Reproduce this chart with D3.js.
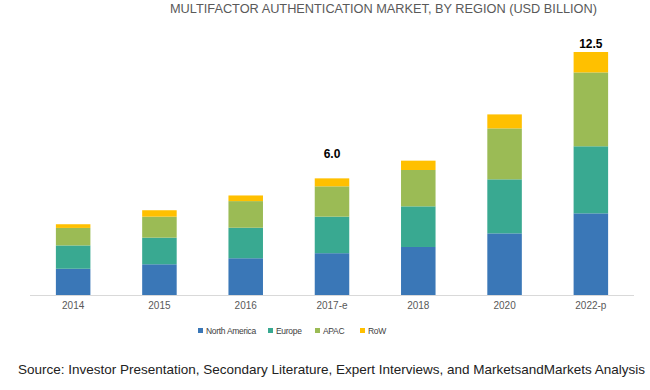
<!DOCTYPE html>
<html>
<head>
<meta charset="utf-8">
<script src="https://cdn.jsdelivr.net/npm/d3@7"></script>
<style>
  body { margin: 0; background: #fff; }
  text { font-family: "Liberation Sans", Arial, sans-serif; }
</style>
</head>
<body>
<div id="chart"></div>
<script>
// data (USD billion)
var years = ["2014", "2015", "2016", "2017-e", "2018", "2020", "2022-p"];
var regions = ["North America", "Europe", "APAC", "RoW"];
var northAmerica = [1.35, 1.58, 1.89, 2.15, 2.47, 3.17, 4.20];
var europe       = [1.20, 1.37, 1.57, 1.88, 2.09, 2.78, 3.45];
var apac         = [0.90, 1.08, 1.37, 1.56, 1.87, 2.62, 3.80];
var row          = [0.19, 0.33, 0.29, 0.41, 0.48, 0.72, 1.05];
var totalLabels  = ["", "", "", "6.0", "", "", "12.5"];

var colors = ["#3a77b7", "#39a991", "#9bbb55", "#ffc000"];

var width = 650, height = 390;

var svg = d3.select("#chart")
  .append("svg")
    .attr("width", width)
    .attr("height", height);

// build rows for the stack
var table = years.map(function(y, i) {
  return {
    year: y,
    "North America": northAmerica[i],
    "Europe": europe[i],
    "APAC": apac[i],
    "RoW": row[i]
  };
});

var series = d3.stack().keys(regions)(table);

var x = d3.scaleBand()
  .domain(years)
  .range([30, 634])
  .paddingInner(0.6)
  .paddingOuter(0.3);

var y = d3.scaleLinear()
  .domain([0, 12.5])
  .range([295, 52]);

// title
svg.append("text")
  .attr("x", 170)
  .attr("y", 13)
  .attr("textLength", 427)
  .attr("lengthAdjust", "spacingAndGlyphs")
  .style("font-size", "12.5px")
  .style("fill", "#595959")
  .text("MULTIFACTOR AUTHENTICATION MARKET, BY REGION (USD BILLION)");

// bars
svg.append("g")
  .selectAll("g")
  .data(series)
  .join("g")
    .attr("fill", function(d, i) { return colors[i]; })
  .selectAll("rect")
  .data(function(d) { return d; })
  .join("rect")
    .attr("x", function(d) { return x(d.data.year); })
    .attr("y", function(d) { return y(d[1]); })
    .attr("width", x.bandwidth())
    .attr("height", function(d) { return y(d[0]) - y(d[1]); });

// x axis
var xAxis = svg.append("g")
  .attr("transform", "translate(0,295)")
  .call(d3.axisBottom(x).tickSize(0).tickPadding(7));
xAxis.select(".domain").attr("stroke", "#d9d9d9").attr("d", "M30,0.5H634");
xAxis.selectAll("text")
  .style("font-size", "10px")
  .style("fill", "#595959");

// total labels
svg.append("g")
  .selectAll("text")
  .data(table)
  .join("text")
    .attr("x", function(d) { return x(d.year) + x.bandwidth() / 2; })
    .attr("y", function(d) {
      var t = d["North America"] + d.Europe + d.APAC + d.RoW;
      return Math.max(y(t) - 20, 48);
    })
    .attr("text-anchor", "middle")
    .style("font-size", "12px")
    .style("font-weight", "bold")
    .style("fill", "#000")
    .text(function(d, i) { return totalLabels[i]; });

// legend
var legendX = [198, 268, 315, 360];
var legend = svg.append("g")
  .selectAll("g")
  .data(regions)
  .join("g")
    .attr("transform", function(d, i) { return "translate(" + legendX[i] + ",331)"; });
legend.append("rect")
  .attr("x", 0).attr("y", -3)
  .attr("width", 5).attr("height", 5)
  .attr("fill", function(d, i) { return colors[i]; });
legend.append("text")
  .attr("x", 8).attr("y", 2.5)
  .style("font-size", "8.5px")
  .style("fill", "#404040")
  .style("letter-spacing", "-0.3px")
  .text(function(d) { return d; });

// source
svg.append("text")
  .attr("x", 18)
  .attr("y", 374)
  .attr("textLength", 627)
  .attr("lengthAdjust", "spacingAndGlyphs")
  .style("font-size", "13px")
  .style("fill", "#222")
  .text("Source: Investor Presentation, Secondary Literature, Expert Interviews, and MarketsandMarkets Analysis");
</script>
</body>
</html>
